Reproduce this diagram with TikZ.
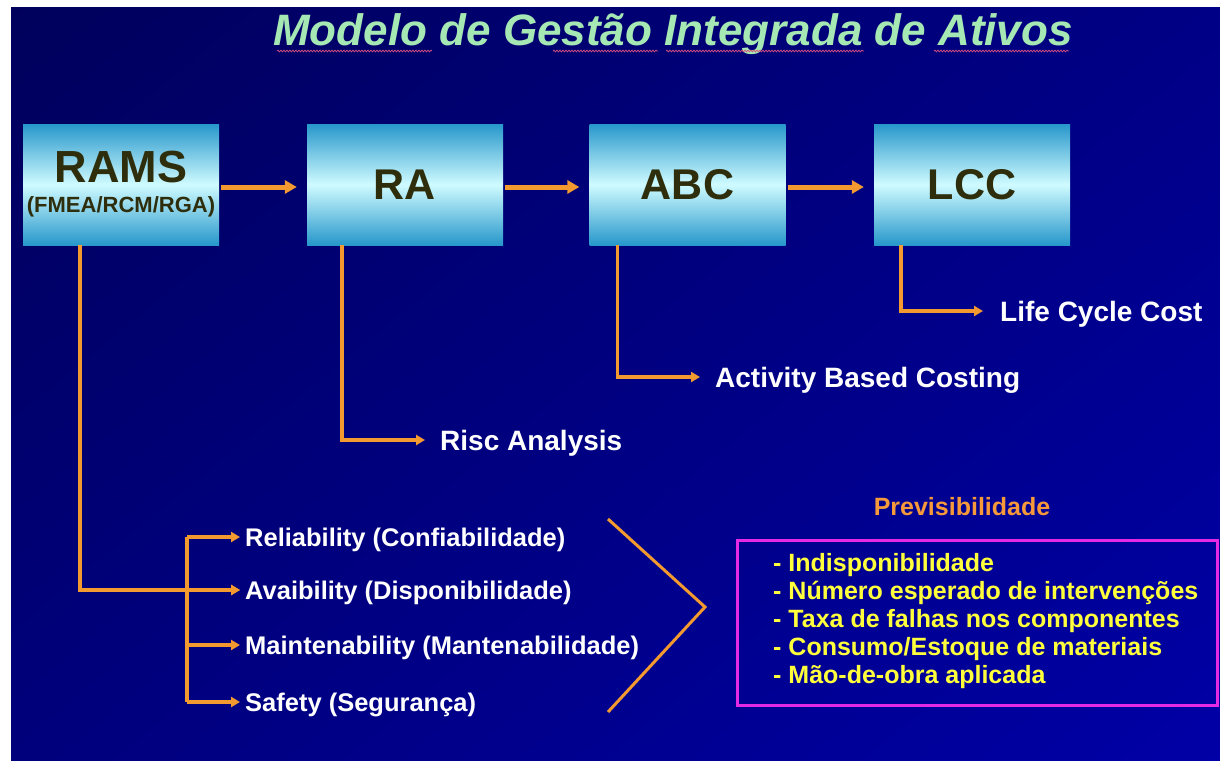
\documentclass[tikz,border=0pt]{standalone}
\usepackage{fontspec}
\setmainfont{Liberation Sans}
\usetikzlibrary{arrows.meta,decorations.pathmorphing,shadings}

\definecolor{bgUL}{HTML}{00005C}
\definecolor{bgUR}{HTML}{000086}
\definecolor{bgLL}{HTML}{00007C}
\definecolor{bgLR}{HTML}{0000A6}
\definecolor{boxedge}{HTML}{2797CB}
\definecolor{boxmid}{HTML}{CFFBFF}
\definecolor{boxtext}{HTML}{2E2E0C}
\definecolor{conn}{HTML}{F29A30}
\definecolor{titlegreen}{HTML}{A6E8B4}
\definecolor{prevorange}{HTML}{F5993A}
\definecolor{listyellow}{HTML}{FFFF3C}
\definecolor{framemag}{HTML}{E52AE5}
\definecolor{squiggle}{HTML}{D8507E}

\tikzset{
  stagebox/.style={minimum width=196pt, minimum height=121pt, inner sep=0pt,
    top color=boxedge, bottom color=boxedge, middle color=boxmid,
    text=boxtext, align=center, font=\bfseries\fontsize{43}{30}\selectfont},
  trunk/.style={draw=conn, line width=3.5pt},
  link/.style={trunk, -{Triangle[length=9pt,width=10pt]}},
  flow/.style={draw=conn, line width=5pt, -{Triangle[length=12pt,width=13pt]}},
  whitelbl/.style={text=white, anchor=west, inner sep=0pt,
    font=\bfseries\fontsize{28}{30}\selectfont, text height=20pt, text depth=0pt},
  itemlbl/.style={text=white, anchor=west, inner sep=0pt,
    font=\bfseries\fontsize{25.5}{28}\selectfont, text height=18pt, text depth=0pt},
  wavy/.style={draw=squiggle, line width=0.7pt, decorate,
    decoration={snake, amplitude=0.9pt, segment length=3pt}},
}

\begin{document}
\begin{tikzpicture}[x=1pt,y=-1pt]
\useasboundingbox (0,0) rectangle (1220,760);
\fill[white] (0,0) rectangle (1220,760);
\shade[upper left=bgUL, upper right=bgUR, lower left=bgLL, lower right=bgLR]
  (11,8) rectangle (1220,760);

% title with spelling squiggles under the flagged words
\node[anchor=base, text=titlegreen, inner sep=0pt,
      font=\bfseries\itshape\fontsize{44}{48}\selectfont] (title) at (673,46)
  {Modelo de Gestão Integrada de Ativos};
\draw[wavy] (277,51) -- (432,51);
\draw[wavy] (553,51) -- (658,51);
\draw[wavy] (666,51) -- (864,51);
\draw[wavy] (934,51) -- (1069,51);

% the four stages
\node[stagebox] (RAMS) at (121,184.5)
  {{\fontsize{45}{30}\selectfont RAMS}\\{\fontsize{22}{30}\selectfont (FMEA/RCM/RGA)}};
\node[stagebox] (RA)   at (405,184.5) {RA};
\node[stagebox] (ABC)  at (687.5,184.5) {ABC};
\node[stagebox] (LCC)  at (972,184.5) {LCC};

\draw[flow, shorten <=2pt, shorten >=10pt] ([yshift=-2.5pt]RAMS.east) -- ([yshift=-2.5pt]RA.west);
\draw[flow, shorten <=2pt, shorten >=10pt] ([yshift=-2.5pt]RA.east) -- ([yshift=-2.5pt]ABC.west);
\draw[flow, shorten <=2pt, shorten >=10pt] ([yshift=-2.5pt]ABC.east) -- ([yshift=-2.5pt]LCC.west);

% meaning of each acronym
\node[whitelbl] (risc) at (440,440) {Risc Analysis};
\node[whitelbl] (abcl) at (715,377) {Activity Based Costing};
\node[whitelbl] (lccl) at (1000,311) {Life Cycle Cost};

\draw[link, shorten >=15pt] ([xshift=35pt]RA.south west) |- (risc.west);
\draw[link, shorten >=15pt] ([xshift=28pt]ABC.south west) |- (abcl.west);
\draw[link, shorten >=17pt] ([xshift=27pt]LCC.south west) |- (lccl.west);

% RAMS components
\node[itemlbl] (rel)   at (245,537) {Reliability (Confiabilidade)};
\node[itemlbl] (avail) at (245,590) {Avaibility (Disponibilidade)};
\node[itemlbl] (maint) at (245,645) {Maintenability (Mantenabilidade)};
\node[itemlbl] (safe)  at (245,702) {Safety (Segurança)};

\coordinate (bx) at (187,0);
\draw[trunk] (rel.west -| bx) -- (safe.west -| bx);
\foreach \n in {rel,avail,maint,safe}
  \draw[link, shorten >=5pt] (\n.west -| bx) -- (\n.west);
\draw[link, shorten >=5pt] ([xshift=57pt]RAMS.south west) |- (avail.west);

% chevron leading to the outcomes
\draw[draw=conn, line width=3pt] (608,519) -- (705,607) -- (608,712);

% predictability outcomes
\node[text=prevorange, inner sep=0pt, font=\bfseries\fontsize{25}{28}\selectfont]
  (prev) at (962,507) {Previsibilidade};
\node[draw=framemag, line width=3pt, minimum width=480pt, minimum height=165pt,
      inner sep=0pt] (frame) at (977,622.5) {};
\node[anchor=north west, inner sep=0pt, align=left, text=listyellow,
      font=\bfseries\fontsize{25}{28}\selectfont] (items) at (773,553)
  {- Indisponibilidade\\
   - Número esperado de intervenções\\
   - Taxa de falhas nos componentes\\
   - Consumo/Estoque de materiais\\
   - Mão-de-obra aplicada};
\end{tikzpicture}
\end{document}
